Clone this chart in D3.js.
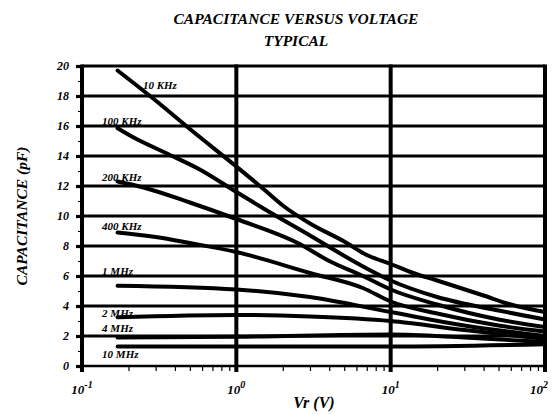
<!DOCTYPE html>
<html>
<head>
<meta charset="utf-8">
<script src="https://cdn.jsdelivr.net/npm/d3@7"></script>
<style>
  body { margin: 0; background: #fff; }
  text { font-family: "Liberation Serif", "Times New Roman", serif; font-weight: bold; font-style: italic; fill: #000; }
</style>
</head>
<body>
<div id="chart"></div>
<script>
const width = 554;
const height = 414;
const margin = { top: 66, right: 9, bottom: 48, left: 82 };

// Series: frequency names, voltage (V) and capacitance (pF)
const seriesNames = ["10 KHz", "100 KHz", "200 KHz", "400 KHz", "1 MHz", "2 MHz", "4 MHz", "10 MHz"];
const volts = [
  [0.17, 0.3, 0.5, 1, 1.5, 2, 3, 5, 7, 10, 14, 20, 40, 60, 100],
  [0.17, 0.21, 0.35, 0.58, 1, 1.5, 3, 7, 10, 20, 50, 100],
  [0.17, 0.25, 0.5, 1, 2.5, 4, 6.6, 10, 20, 50, 100],
  [0.17, 0.3, 0.5, 1, 3, 6.6, 10, 20, 50, 100],
  [0.17, 1, 3, 10, 30, 100],
  [0.17, 1, 3, 10, 30, 100],
  [0.17, 1, 10, 30, 100],
  [0.17, 1, 10, 100]
];
const capacitance = [
  [19.7, 17.7, 15.8, 13.3, 11.8, 10.7, 9.5, 8.3, 7.4, 6.8, 6.2, 5.7, 4.7, 4.1, 3.6],
  [15.85, 15.3, 14.2, 13.1, 11.6, 10.5, 8.7, 6.5, 5.7, 4.6, 3.7, 3.1],
  [12.3, 11.9, 10.9, 9.8, 8.2, 7.0, 6.0, 5.1, 4.1, 3.1, 2.6],
  [8.9, 8.6, 8.2, 7.6, 6.2, 5.2, 4.3, 3.5, 2.7, 2.3],
  [5.35, 5.1, 4.6, 3.6, 2.7, 2.0],
  [3.25, 3.4, 3.3, 3.0, 2.4, 1.8],
  [1.9, 1.95, 2.1, 1.9, 1.6],
  [1.3, 1.3, 1.3, 1.45]
];
// where each curve name sits, in chart units [V, pF]
const labelAt = [
  [0.248, 18.5], [0.135, 16.1], [0.135, 12.35], [0.135, 9.05],
  [0.135, 6.1], [0.135, 3.3], [0.135, 2.25], [0.135, 0.55]
];

const yMajor = d3.range(0, 21, 2);
const yMinor = d3.range(1, 20, 2);
const decades = [0.1, 1, 10, 100];
const decadeExp = ["-1", "0", "1", "2"];
const xMinor = [];
[0.1, 1, 10].forEach(d => d3.range(2, 10).forEach(k => xMinor.push(d * k)));

const svg = d3.select("#chart")
  .append("svg")
  .attr("width", width)
  .attr("height", height);

const x = d3.scaleLog()
  .domain([0.1, 100])
  .range([margin.left, width - margin.right]);

const y = d3.scaleLinear()
  .domain([0, 20])
  .range([height - margin.bottom, margin.top]);

// Title
svg.append("text")
  .attr("x", 296).attr("y", 24)
  .attr("text-anchor", "middle")
  .style("font-size", "15.5px")
  .text("CAPACITANCE VERSUS VOLTAGE");
svg.append("text")
  .attr("x", 296).attr("y", 46)
  .attr("text-anchor", "middle")
  .style("font-size", "15.5px")
  .text("TYPICAL");

// Horizontal grid
svg.append("g")
  .selectAll("line")
  .data(yMajor)
  .join("line")
  .attr("x1", margin.left)
  .attr("x2", width - margin.right)
  .attr("y1", d => y(d))
  .attr("y2", d => y(d))
  .attr("stroke", "#000")
  .attr("stroke-width", d => d === 0 ? 2.5 : 3.2);

// Vertical grid at decades
svg.append("g")
  .selectAll("line")
  .data(decades)
  .join("line")
  .attr("x1", d => x(d))
  .attr("x2", d => x(d))
  .attr("y1", y(20) - 1.5)
  .attr("y2", y(0) + 6)
  .attr("stroke", "#000")
  .attr("stroke-width", 4);

// Y axis ticks
const yAxis = svg.append("g")
  .attr("transform", `translate(${margin.left},0)`)
  .call(d3.axisLeft(y).tickValues(yMajor).tickSize(6).tickPadding(7).tickFormat(d3.format("d")));
yAxis.select(".domain").remove();
yAxis.selectAll(".tick line").attr("stroke-width", 3.2);
yAxis.selectAll(".tick text")
  .style("font-size", "12px")
  .style("font-family", "'Liberation Serif', serif");

const yMinorAxis = svg.append("g")
  .attr("transform", `translate(${margin.left},0)`)
  .call(d3.axisLeft(y).tickValues(yMinor).tickSize(4).tickFormat(""));
yMinorAxis.select(".domain").remove();
yMinorAxis.selectAll(".tick line").attr("stroke-width", 1);

// X axis minor ticks
const xMinorAxis = svg.append("g")
  .attr("transform", `translate(0,${y(0)})`)
  .call(d3.axisBottom(x).tickValues(xMinor).tickSize(5).tickFormat(""));
xMinorAxis.select(".domain").remove();
xMinorAxis.selectAll(".tick line").attr("stroke-width", 1.2);

// X tick labels as powers of ten
const xLabels = svg.append("g")
  .selectAll("text")
  .data(decades)
  .join("text")
  .attr("x", (d, i) => x(d) + (i === 3 ? -6 : 0))
  .attr("y", y(0) + 28)
  .attr("text-anchor", "middle")
  .style("font-size", "13px");
xLabels.append("tspan").text("10");
xLabels.append("tspan")
  .attr("dy", -6)
  .style("font-size", "10px")
  .text((d, i) => decadeExp[i]);

// Axis titles
svg.append("text")
  .attr("x", 314)
  .attr("y", 408)
  .attr("text-anchor", "middle")
  .style("font-size", "16px")
  .text("Vr (V)");

svg.append("text")
  .attr("transform", "rotate(-90)")
  .attr("x", -216)
  .attr("y", 27)
  .attr("text-anchor", "middle")
  .style("font-size", "15.5px")
  .text("CAPACITANCE (pF)");

// Curves
const line = d3.line()
  .x(d => x(d[0]))
  .y(d => y(d[1]))
  .curve(d3.curveMonotoneX);

svg.append("g")
  .selectAll("path")
  .data(seriesNames.map((name, i) => volts[i].map((v, j) => [v, capacitance[i][j]])))
  .join("path")
  .attr("d", line)
  .attr("fill", "none")
  .attr("stroke", "#000")
  .attr("stroke-width", 4)
  .attr("stroke-linecap", "round");

// Curve names
svg.append("g")
  .selectAll("text")
  .data(seriesNames)
  .join("text")
  .attr("x", (d, i) => x(labelAt[i][0]))
  .attr("y", (d, i) => y(labelAt[i][1]))
  .style("font-size", "11px")
  .text(d => d);
</script>
</body>
</html>
